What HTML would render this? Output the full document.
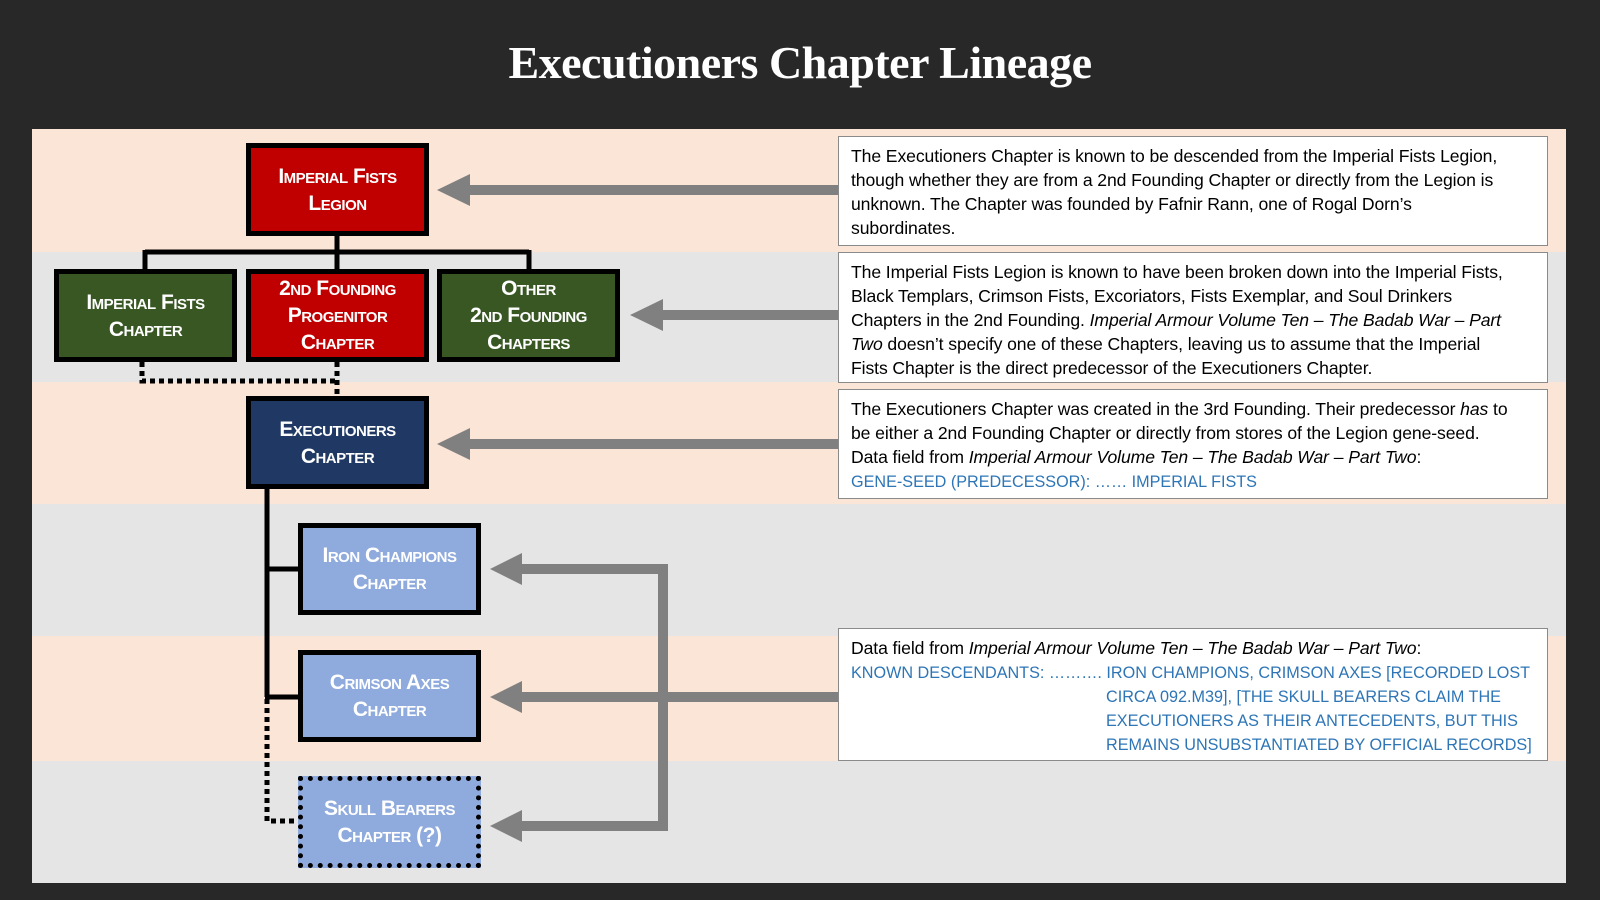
<!DOCTYPE html>
<html><head><meta charset="utf-8"><style>
body{margin:0;width:1600px;height:900px;background:#282828;position:relative;overflow:hidden;font-family:"Liberation Sans",sans-serif}
.title{position:absolute;left:0;top:36px;width:1600px;text-align:center;color:#fff;font-family:"Liberation Serif",serif;font-size:46px;font-weight:bold;letter-spacing:-0.5px}
.band{position:absolute;left:32px;width:1534px}
.node{position:absolute;box-sizing:border-box;border:5px solid #000;color:#fff;font-weight:bold;font-variant:small-caps;font-size:21px;line-height:27px;display:flex;align-items:center;justify-content:center;text-align:center;letter-spacing:-0.5px}
.tb{position:absolute;left:838px;width:710px;box-sizing:border-box;background:#fff;border:1.5px solid #8a8a8a;padding:7px 0 0 12px;font-size:17.6px;line-height:24px;color:#000;white-space:nowrap;letter-spacing:-0.1px}
.bl{color:#2e75b6;font-size:16.2px;letter-spacing:0;line-height:20px}
svg{position:absolute;left:0;top:0}
</style></head><body>
<div class="title">Executioners Chapter Lineage</div>
<div class="band" style="top:129px;height:123px;background:#fbe5d6"></div>
<div class="band" style="top:252px;height:130px;background:#e5e5e5"></div>
<div class="band" style="top:382px;height:122px;background:#fbe5d6"></div>
<div class="band" style="top:504px;height:132px;background:#e5e5e5"></div>
<div class="band" style="top:636px;height:125px;background:#fbe5d6"></div>
<div class="band" style="top:761px;height:122px;background:#e5e5e5"></div>

<svg width="1600" height="900">
<g stroke="#000" stroke-width="5" fill="none">
<path d="M337 236V269M145 252H529M145 250V269M529 250V269M337 252V269"/>
<path d="M267 489V697M265 569H298M265 697H298"/>
</g>
<g stroke="#000" stroke-width="5" fill="none" stroke-dasharray="5 4">
<path d="M142 362V381H337M337 362V396"/>
<path d="M267 699V821H298"/>
</g>
<g fill="#808080" stroke="none">
<rect x="468" y="185" width="370" height="10"/><polygon points="437,190 470,174 470,206"/>
<rect x="661" y="310" width="177" height="10"/><polygon points="630,315 663,299 663,331"/>
<rect x="468" y="439" width="370" height="10"/><polygon points="437,444 470,428 470,460"/>
<rect x="658" y="564" width="10" height="267"/>
<rect x="520" y="564" width="148" height="10"/><polygon points="490,569 522,553 522,585"/>
<rect x="520" y="692" width="318" height="10"/><polygon points="490,697 522,681 522,713"/>
<rect x="520" y="821" width="148" height="10"/><polygon points="490,826 522,810 522,842"/>
</g>
</svg>

<div class="node" style="left:246px;top:143px;width:183px;height:93px;background:#c00000">Imperial Fists<br>Legion</div>
<div class="node" style="left:54px;top:269px;width:183px;height:93px;background:#385723">Imperial Fists<br>Chapter</div>
<div class="node" style="left:246px;top:269px;width:183px;height:93px;background:#c00000">2nd Founding<br>Progenitor<br>Chapter</div>
<div class="node" style="left:437px;top:269px;width:183px;height:93px;background:#385723">Other<br>2nd Founding<br>Chapters</div>
<div class="node" style="left:246px;top:396px;width:183px;height:93px;background:#1f3864">Executioners<br>Chapter</div>
<div class="node" style="left:298px;top:523px;width:183px;height:92px;background:#8faadc">Iron Champions<br>Chapter</div>
<div class="node" style="left:298px;top:650px;width:183px;height:92px;background:#8faadc">Crimson Axes<br>Chapter</div>
<div class="node" style="left:298px;top:776px;width:183px;height:92px;background:#8faadc;border-style:dotted">Skull Bearers<br>Chapter (?)</div>

<div class="tb" style="top:136px;height:110px">The Executioners Chapter is known to be descended from the Imperial Fists Legion,<br>though whether they are from a 2nd Founding Chapter or directly from the Legion is<br>unknown. The Chapter was founded by Fafnir Rann, one of Rogal Dorn’s<br>subordinates.</div>
<div class="tb" style="top:252px;height:131px">The Imperial Fists Legion is known to have been broken down into the Imperial Fists,<br>Black Templars, Crimson Fists, Excoriators, Fists Exemplar, and Soul Drinkers<br>Chapters in the 2nd Founding. <i>Imperial Armour Volume Ten – The Badab War – Part<br>Two</i> doesn’t specify one of these Chapters, leaving us to assume that the Imperial<br>Fists Chapter is the direct predecessor of the Executioners Chapter.</div>
<div class="tb" style="top:389px;height:110px">The Executioners Chapter was created in the 3rd Founding. Their predecessor <i>has</i> to<br>be either a 2nd Founding Chapter or directly from stores of the Legion gene-seed.<br>Data field from <i>Imperial Armour Volume Ten – The Badab War – Part Two</i>:<br><span class="bl">GENE-SEED (PREDECESSOR): …… IMPERIAL FISTS</span></div>
<div class="tb" style="top:628px;height:133px">Data field from <i>Imperial Armour Volume Ten – The Badab War – Part Two</i>:<br><span class="bl">KNOWN DESCENDANTS: ………. IRON CHAMPIONS, CRIMSON AXES [RECORDED LOST<br><span style="padding-left:255px">CIRCA 092.M39], [THE SKULL BEARERS CLAIM THE</span><br><span style="padding-left:255px">EXECUTIONERS AS THEIR ANTECEDENTS, BUT THIS</span><br><span style="padding-left:255px">REMAINS UNSUBSTANTIATED BY OFFICIAL RECORDS]</span></span></div>
</body></html>
